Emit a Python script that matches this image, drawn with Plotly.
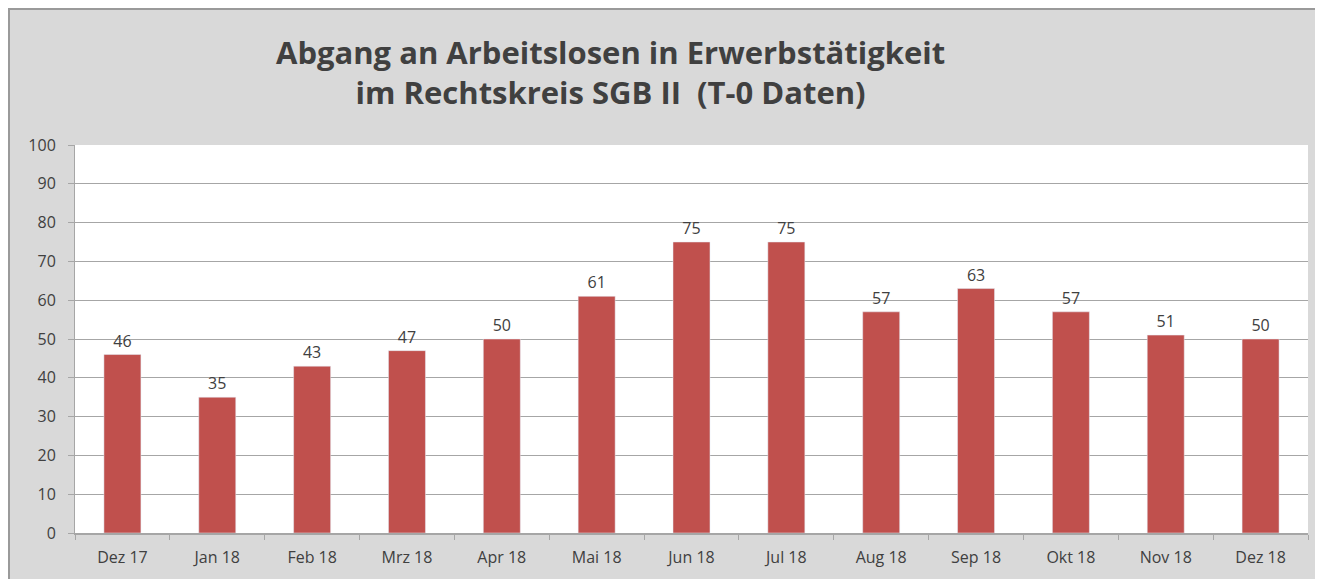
import plotly.graph_objects as go

months = ["Dez 17", "Jan 18", "Feb 18", "Mrz 18", "Apr 18", "Mai 18", "Jun 18",
          "Jul 18", "Aug 18", "Sep 18", "Okt 18", "Nov 18", "Dez 18"]
values = [46, 35, 43, 47, 50, 61, 75, 75, 57, 63, 57, 51, 50]
y_ticks = list(range(0, 101, 10))
title_text = "<b>Abgang an Arbeitslosen in Erwerbstätigkeit<br>im Rechtskreis SGB II  (T-0 Daten)</b>"

PAGE_W, PAGE_H = 1323, 579
OFF = 8  # page body margin
W, H = PAGE_W - OFF, PAGE_H - OFF
L, T = 75 - OFF, 145 - OFF
R = W - (1308 - OFF)
B = H - (533 - OFF)
pw, ph = W - L - R, H - T - B

def px(x):
    return (x - OFF - L) / pw

def py(y):
    return (H - B - (y - OFF)) / ph

fig = go.Figure(go.Bar(
    x=months, y=values, marker_color="#c0504d", width=0.39,
    text=values, textposition="outside", cliponaxis=False,
    textfont=dict(size=16, color="#404040", family="Open Sans"),
))

fig.update_layout(
    width=W, height=H,
    margin=dict(l=L, r=R, t=T, b=B, autoexpand=False),
    paper_bgcolor="#d9d9d9", plot_bgcolor="white",
    showlegend=False,
    font=dict(family="Open Sans", color="#404040"),
    annotations=[dict(
        text=title_text, xref="paper", yref="paper",
        x=px(610), y=py(72), xanchor="center", yanchor="middle",
        showarrow=False, align="center",
        font=dict(size=31, color="#404040", family="Open Sans"),
    )],
    bargap=0.61,
    shapes=[
        dict(type="line", xref="paper", yref="paper", x0=px(OFF), x1=px(PAGE_W),
             y0=py(OFF + 1), y1=py(OFF + 1), line=dict(color="#9a9a9a", width=2)),
        dict(type="line", xref="paper", yref="paper", x0=px(OFF + 1), x1=px(OFF + 1),
             y0=py(OFF), y1=py(PAGE_H), line=dict(color="#9a9a9a", width=2)),
    ],
)

fig.update_yaxes(
    range=[0, 100], tickvals=y_ticks, showgrid=True, gridcolor="#a6a6a6", gridwidth=1,
    showline=True, linecolor="#a6a6a6", linewidth=1, automargin=False,
    ticks="outside", ticklen=6, tickcolor="#a6a6a6", ticklabelstandoff=9,
    tickfont=dict(size=16, color="#404040"), zeroline=False,
)
fig.update_xaxes(
    showline=True, linecolor="#a6a6a6", linewidth=1.5, mirror=False, automargin=False,
    ticks="outside", ticklen=5, tickcolor="#a6a6a6", tickson="boundaries",
    ticklabelstandoff=9,
    tickfont=dict(size=16, color="#404040"),
)

fig.write_html("out.html", config={"displayModeBar": False},
               default_width=f"{W}px", default_height=f"{H}px")
